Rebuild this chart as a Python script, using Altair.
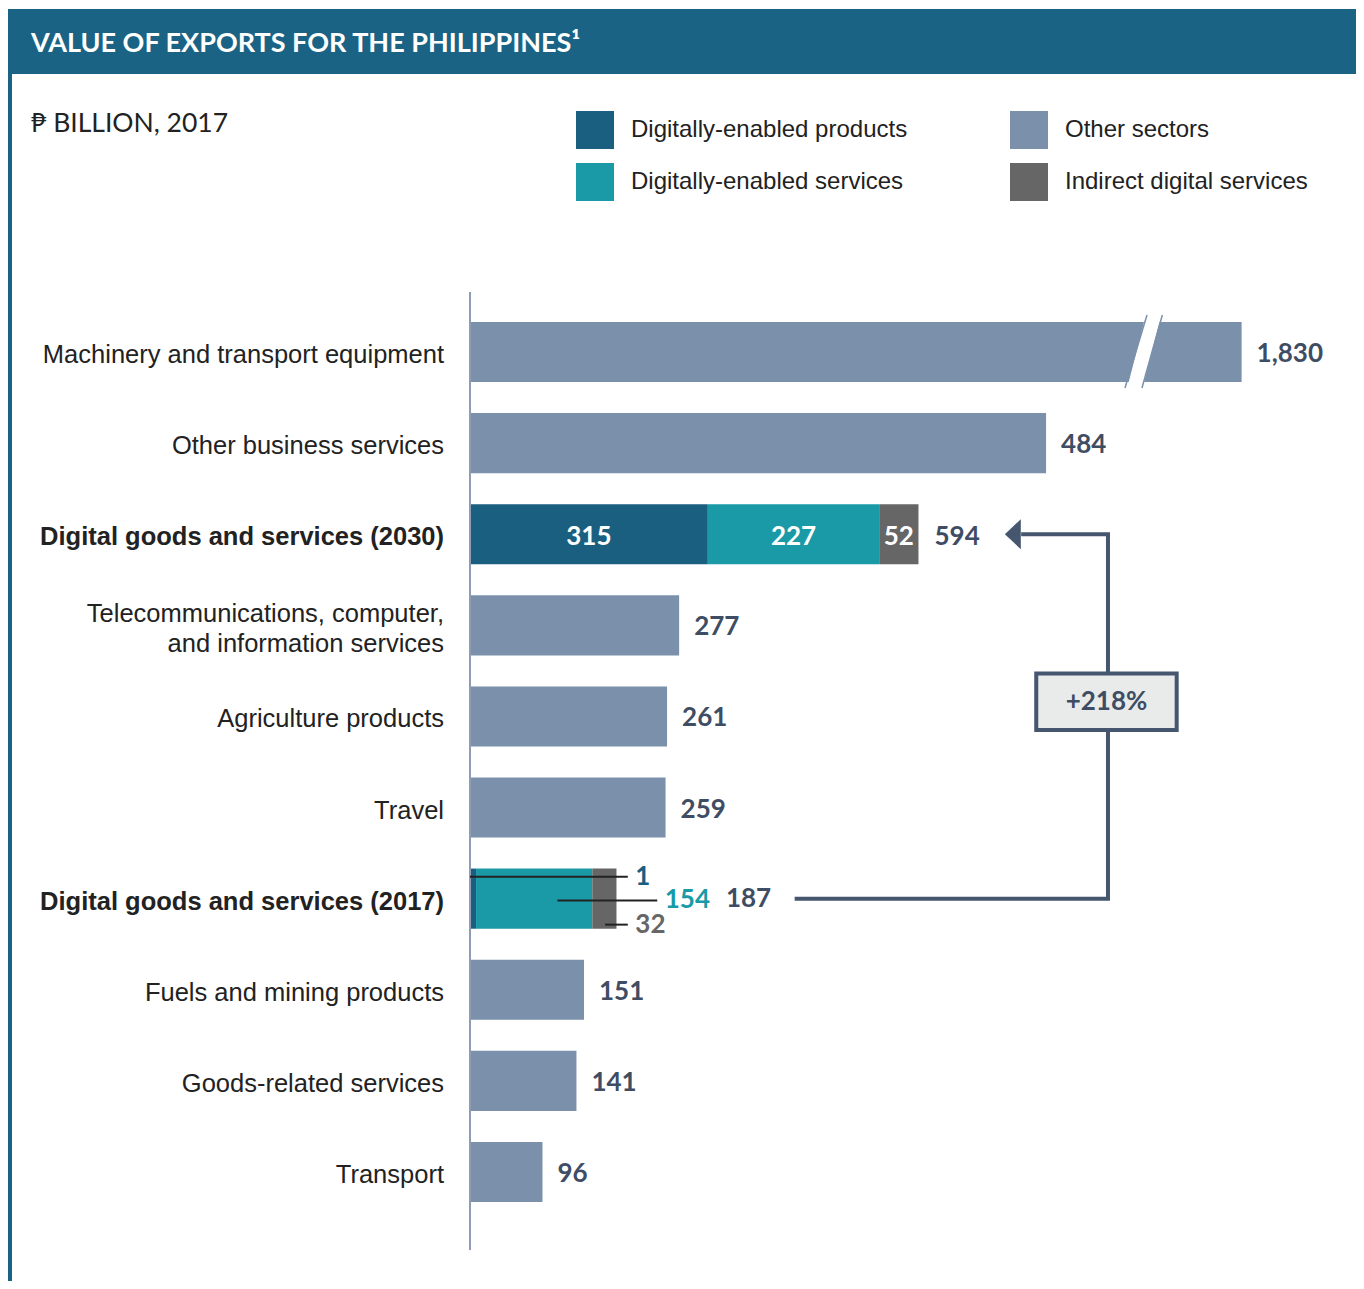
import altair as alt
import pandas as pd

# ---------------- data ----------------
rows = [
    "Machinery and transport equipment",
    "Other business services",
    "Digital goods and services (2030)",
    "Telecommunications, computer,\nand information services",
    "Agriculture products",
    "Travel",
    "Digital goods and services (2017)",
    "Fuels and mining products",
    "Goods-related services",
    "Transport",
]
bold_rows = ["Digital goods and services (2030)", "Digital goods and services (2017)"]

other_names = [
    "Machinery and transport equipment",
    "Other business services",
    "Telecommunications, computer,\nand information services",
    "Agriculture products",
    "Travel",
    "Fuels and mining products",
    "Goods-related services",
    "Transport",
]
other_values = [1830, 484, 277, 261, 259, 151, 141, 96]
# bar length as drawn in the source (first bar is cut by an axis break)
other_drawn = [1022, 763, 277, 261, 259, 151, 141, 96]

digital_series = ["Digitally-enabled products", "Digitally-enabled services", "Indirect digital services"]
digital_2030 = [315, 227, 52]
digital_2017 = [1, 154, 32]
growth_label = "+218%"

# legend fills column by column: products, services | other, indirect
legend_order = ["Digitally-enabled products", "Digitally-enabled services", "Other sectors", "Indirect digital services"]
legend_colors = ["#1a5f80", "#1a9aa6", "#7a90ab", "#666666"]

title_text = "VALUE OF EXPORTS FOR THE PHILIPPINES\u00b9"
subtitle_text = "\u20b1 BILLION, 2017"

# ---------------- styles ----------------
HEADER = "#1a6384"
NUM = "#3e4d63"
ARROW = "#45566e"
W, H = 1348, 1273
HALF = 0.33
MIN_SEG = 8  # smallest drawn segment so that a tiny value stays visible

xsc = alt.Scale(domain=[0, 1000], range=[462, 1217], nice=False, zero=False)
ysc = alt.Scale(domain=[0, 9], range=[344, 1164], nice=False, zero=False)

ridx = {r: i for i, r in enumerate(rows)}

# ---------------- tables ----------------
bars = []
for n, v, d in zip(other_names, other_values, other_drawn):
    bars.append(dict(row=n, i=ridx[n], series="Other sectors", x0=0, x1=d, value=v))
seg_pos = {}
for rname, vals in [("Digital goods and services (2030)", digital_2030),
                    ("Digital goods and services (2017)", digital_2017)]:
    s = 0
    pos = []
    for ser, v in zip(digital_series, vals):
        w = max(v, MIN_SEG)
        bars.append(dict(row=rname, i=ridx[rname], series=ser, x0=s, x1=s + w, value=v))
        pos.append((s, s + w))
        s += w
    seg_pos[rname] = pos
bars_df = pd.DataFrame(bars)
bars_df["y0"] = bars_df["i"] - HALF
bars_df["y1"] = bars_df["i"] + HALF

other_lab = pd.DataFrame(dict(x=other_drawn, i=[ridx[n] for n in other_names],
                              label=[f"{v:,}" for v in other_values]))

r30 = "Digital goods and services (2030)"
i30 = ridx[r30]
p30 = seg_pos[r30]
in30 = pd.DataFrame(dict(x=[(a + b) / 2 for a, b in p30], i=[i30] * 3,
                         label=[str(v) for v in digital_2030]))
tot30 = pd.DataFrame(dict(x=[p30[-1][1]], i=[i30], label=[f"{sum(digital_2030):,}"]))

r17 = "Digital goods and services (2017)"
i17 = ridx[r17]
p17 = seg_pos[r17]
e17 = p17[-1][1]
ends = [e17 + 15, e17 + 54, e17 + 15]
fracs = [0.0, 0.7, 0.53]
dys = [-0.24, 0.02, 0.285]
lead = pd.DataFrame(dict(
    x0=[a + f * (b - a) for (a, b), f in zip(p17, fracs)],
    x1=ends,
    y=[i17 + d for d in dys],
    lx=[e + 10 for e in ends],
    label=[str(v) for v in digital_2017],
    col=["#1a5f80", "#1a9aa6", "#666666"],
))
tot17 = pd.DataFrame(dict(x=[e17 + 145], i=[i17], label=[f"{sum(digital_2017):,}"]))

arrow_start = e17 + 236
arrow_x = 845
arrow_path = pd.DataFrame(dict(x=[730, arrow_x, arrow_x, arrow_start], y=[i30, i30, i17, i17], o=[0, 1, 2, 3]))
arrow_head = pd.DataFrame(dict(x=[719], y=[i30]))
box = pd.DataFrame(dict(x0=[750], x1=[936], y0=[3.53], y1=[4.15], xc=[843], yc=[3.84], label=[growth_label]))

brk = pd.DataFrame(dict(x0=[867.5, 890.0], x1=[896.7, 917.0], y0=[0.395, 0.395], y1=[-0.406, -0.406]))
brk_w = pd.DataFrame(dict(x0=[879.0], x1=[907.0], y0=[0.45], y1=[-0.46]))

cat_df = pd.DataFrame(dict(name=rows, i=list(range(len(rows))),
                           bold=[r in bold_rows for r in rows],
                           multi=["\n" in r for r in rows]))
one = pd.DataFrame({"a": [0]})

# ---------------- layers ----------------
header = alt.Chart(one).mark_rect(color=HEADER).encode(
    x=alt.value(0), x2=alt.value(W), y=alt.value(1), y2=alt.value(66))
title = alt.Chart(one).mark_text(align="left", baseline="middle", font="Lato", fontWeight="bold",
                                 fontSize=27, color="white", text=title_text).encode(
    x=alt.value(23), y=alt.value(36))
border = alt.Chart(one).mark_rule(color=HEADER, strokeWidth=4).encode(
    x=alt.value(2), y=alt.value(66), y2=alt.value(H))
subtitle = alt.Chart(one).mark_text(align="left", baseline="middle", font="Lato", fontSize=26.5,
                                    color="#222222", text=subtitle_text).encode(
    x=alt.value(23), y=alt.value(116))

axis_line = alt.Chart(one).mark_rule(color="#8c9db5", strokeWidth=2).encode(
    x=alt.value(462), y=alt.value(284), y2=alt.value(1242))

bar_layer = alt.Chart(bars_df).mark_rect().encode(
    x=alt.X("x0:Q", scale=xsc, axis=None),
    x2="x1:Q",
    y=alt.Y("y0:Q", scale=ysc, axis=None),
    y2="y1:Q",
    color=alt.Color("series:N", scale=alt.Scale(domain=legend_order, range=legend_colors),
                    legend=alt.Legend(orient="none", legendX=568, legendY=103, columns=2, title=None,
                                      symbolType="square", symbolSize=1444, symbolStrokeWidth=0,
                                      symbolOpacity=1, labelFontSize=24, labelFont="Liberation Sans",
                                      labelColor="#222222", labelOffset=17, rowPadding=14,
                                      columnPadding=102, labelLimit=0, padding=0)),
)

brk_white = alt.Chart(brk_w).mark_rule(color="white", strokeWidth=15).encode(
    x=alt.X("x0:Q", scale=xsc, axis=None), x2="x1:Q",
    y=alt.Y("y0:Q", scale=ysc, axis=None), y2="y1:Q")
brk_lines = alt.Chart(brk).mark_rule(color="#7a90ab", strokeWidth=1.5).encode(
    x=alt.X("x0:Q", scale=xsc, axis=None), x2="x1:Q",
    y=alt.Y("y0:Q", scale=ysc, axis=None), y2="y1:Q")

cat_font = dict(align="right", baseline="middle", font="Liberation Sans", fontSize=25.5, color="#222222")
cat_norm = alt.Chart(cat_df).transform_filter("!datum.bold && !datum.multi").mark_text(
    dy=3, **cat_font).encode(
    x=alt.value(436), y=alt.Y("i:Q", scale=ysc, axis=None), text="name:N")
cat_multi = alt.Chart(cat_df).transform_filter("datum.multi").mark_text(
    dy=-11, lineBreak="\n", lineHeight=30, **cat_font).encode(
    x=alt.value(436), y=alt.Y("i:Q", scale=ysc, axis=None), text="name:N")
cat_bold = alt.Chart(cat_df).transform_filter("datum.bold").mark_text(
    dy=3, fontWeight="bold", **cat_font).encode(
    x=alt.value(436), y=alt.Y("i:Q", scale=ysc, axis=None), text="name:N")

num_font = dict(font="Lato", fontWeight="bold", fontSize=26, baseline="middle")
other_text = alt.Chart(other_lab).mark_text(align="left", dx=15, dy=2, color=NUM, **num_font).encode(
    x=alt.X("x:Q", scale=xsc, axis=None), y=alt.Y("i:Q", scale=ysc, axis=None), text="label:N")
in30_text = alt.Chart(in30).mark_text(align="center", color="white", dy=3, **num_font).encode(
    x=alt.X("x:Q", scale=xsc, axis=None), y=alt.Y("i:Q", scale=ysc, axis=None), text="label:N")
tot30_text = alt.Chart(tot30).mark_text(align="left", dx=16, dy=3, color=NUM, **num_font).encode(
    x=alt.X("x:Q", scale=xsc, axis=None), y=alt.Y("i:Q", scale=ysc, axis=None), text="label:N")

lead_lines = alt.Chart(lead).mark_rule(color="#222222", strokeWidth=2).encode(
    x=alt.X("x0:Q", scale=xsc, axis=None), x2="x1:Q", y=alt.Y("y:Q", scale=ysc, axis=None))
lead_text = alt.Chart(lead).mark_text(align="left", **num_font).encode(
    x=alt.X("lx:Q", scale=xsc, axis=None), y=alt.Y("y:Q", scale=ysc, axis=None), text="label:N",
    color=alt.Color("col:N", scale=None))
tot17_text = alt.Chart(tot17).mark_text(align="left", color=NUM, **num_font).encode(
    x=alt.X("x:Q", scale=xsc, axis=None), y=alt.Y("i:Q", scale=ysc, axis=None), text="label:N")

arrow_line = alt.Chart(arrow_path).mark_line(color=ARROW, strokeWidth=4, strokeJoin="miter").encode(
    x=alt.X("x:Q", scale=xsc, axis=None), y=alt.Y("y:Q", scale=ysc, axis=None), order="o:Q")
arrow_tip = alt.Chart(arrow_head).mark_point(shape="M0.53,-1L-0.53,0L0.53,1Z", filled=True, size=900,
                                             color=ARROW, opacity=1).encode(
    x=alt.X("x:Q", scale=xsc, axis=None), y=alt.Y("y:Q", scale=ysc, axis=None))
box_rect = alt.Chart(box).mark_rect(fill="#e9ebeb", stroke=ARROW, strokeWidth=4).encode(
    x=alt.X("x0:Q", scale=xsc, axis=None), x2="x1:Q",
    y=alt.Y("y0:Q", scale=ysc, axis=None), y2="y1:Q")
box_text = alt.Chart(box).mark_text(align="center", color=NUM, **num_font).encode(
    x=alt.X("xc:Q", scale=xsc, axis=None), y=alt.Y("yc:Q", scale=ysc, axis=None), text="label:N")

chart = alt.layer(
    header, title, border, subtitle,
    bar_layer, brk_white, brk_lines, axis_line,
    cat_norm, cat_multi, cat_bold, other_text, in30_text, tot30_text,
    lead_lines, lead_text, tot17_text,
    arrow_line, arrow_tip, box_rect, box_text,
).properties(
    width=W, height=H, autosize=alt.AutoSizeParams(type="none"), padding=0, background="white"
).configure_view(strokeWidth=0)

chart.save("out.html", embed_options={"renderer": "svg", "actions": False})
